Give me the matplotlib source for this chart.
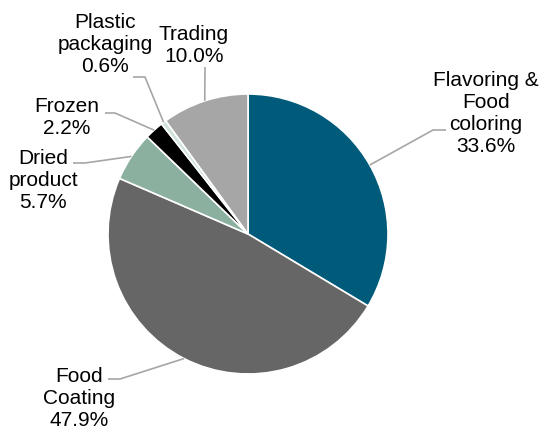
import numpy as np
import matplotlib.pyplot as plt

# 데이터
labels = ['Flavoring &\nFood\ncoloring', 'Food\nCoating', 'Dried\nproduct',
          'Frozen', 'Plastic\npackaging', 'Trading']
shares = [33.6, 47.9, 5.7, 2.2, 0.6, 10.0]
colors = ['#005B7A', '#666666', '#8BB09F', '#000000', '#CFE3D9', '#A6A6A6']

# 라벨 위치 (픽셀, 위에서부터)
text_pos = [(486, 113), (79, 398), (43, 181), (67, 118), (105, 45), (194, 45)]
elbow_pos = [[(433, 130), (446, 130)],
             [(120, 379), (108, 379)],
             [(85, 163), (73, 163)],
             [(115, 113), (105, 113)],
             [(145, 77), (133, 77)],
             [(205, 67)]]

W, H = 544, 432
cx, cy, r = 248, H - 234, 140

fig = plt.figure(figsize=(5.44, 4.32), dpi=100)
ax = fig.add_axes([0, 0, 1, 1])
ax.axis('off')

wedges, _ = ax.pie(shares, colors=colors, startangle=90, counterclock=False,
                   center=(cx, cy), radius=r,
                   wedgeprops=dict(edgecolor='white', linewidth=1.2))
ax.set_xlim(0, W)
ax.set_ylim(0, H)
ax.set_aspect('equal')

for w, lab, val, tp, elb in zip(wedges, labels, shares, text_pos, elbow_pos):
    ang = np.deg2rad((w.theta1 + w.theta2) / 2)
    x0 = cx + r * np.cos(ang)
    y0 = cy + r * np.sin(ang)
    xs = [x0] + [p[0] for p in elb]
    ys = [y0] + [H - p[1] for p in elb]
    ax.plot(xs, ys, color='#A6A6A6', lw=1.2, solid_capstyle='butt')
    ax.text(tp[0], H - tp[1], f'{lab}\n{val:.1f}%', ha='center', va='center',
            multialignment='center', fontsize=15, linespacing=1.2,
            family='Liberation Sans', color='#000000')

plt.savefig('out.png', dpi=100)
